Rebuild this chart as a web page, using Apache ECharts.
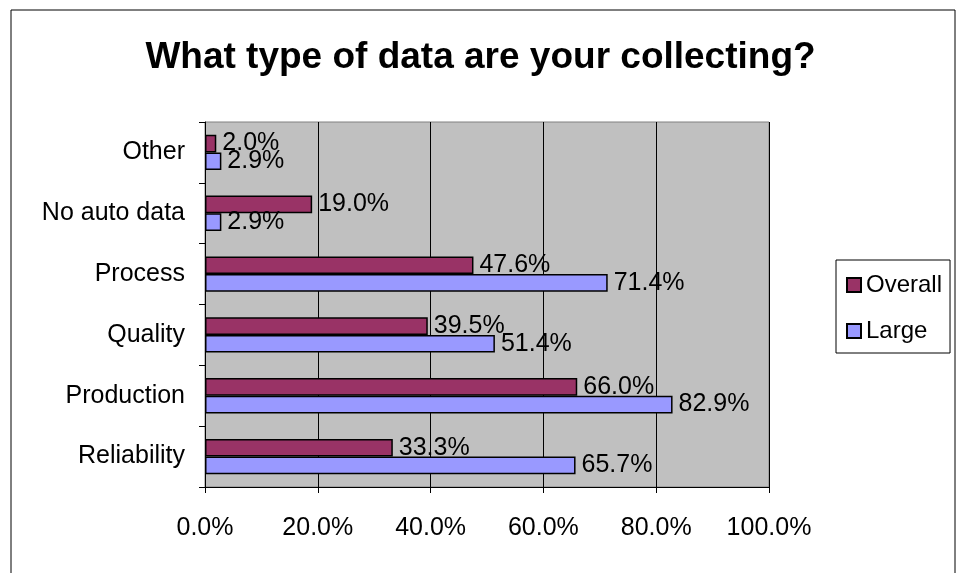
<!DOCTYPE html>
<html>
<head>
<meta charset="utf-8">
<script src="https://cdn.jsdelivr.net/npm/echarts@6/dist/echarts.min.js"></script>
<style>
  html, body { margin: 0; padding: 0; background: #fff; }
  #chart { width: 961px; height: 573px; }
</style>
</head>
<body>
<div id="chart"></div>
<script>
// categories bottom -> top (category axis starts at the bottom)
const categories = ['Reliability', 'Production', 'Quality', 'Process', 'No auto data', 'Other'];
const overallValues = [33.3, 66.0, 39.5, 47.6, 19.0, 2.0];
const largeValues = [65.7, 82.9, 51.4, 71.4, 2.9, 2.9];
const xTicks = [0, 20, 40, 60, 80, 100];

const font = '"Liberation Sans", Arial, sans-serif';

const chart = echarts.init(document.getElementById('chart'));

const labelStyle = {
  show: true,
  position: 'right',
  distance: 6,
  color: '#000',
  fontFamily: font,
  fontSize: 25,
  formatter: (p) => p.value.toFixed(1) + '%'
};

chart.setOption({
  animation: false,
  backgroundColor: '#fff',
  title: {
    text: 'What type of data are your collecting?',
    left: 'center',
    top: 34,
    textStyle: {
      fontFamily: font,
      fontWeight: 'bold',
      fontSize: 37,
      color: '#000'
    }
  },
  graphic: [{
    type: 'rect',
    shape: { x: 11, y: 10, width: 944, height: 620 },
    style: { fill: 'none', stroke: '#000', lineWidth: 1 },
    silent: true
  }],
  legend: {
    data: ['Overall', 'Large'],
    orient: 'vertical',
    left: 836,
    top: 260,
    padding: [13, 8, 10, 10],
    itemGap: 22,
    itemWidth: 14,
    itemHeight: 14,
    icon: 'rect',
    borderColor: '#000',
    borderWidth: 1,
    textStyle: { fontFamily: font, fontSize: 24, color: '#000' }
  },
  grid: {
    left: 205,
    right: 192,
    top: 122,
    bottom: 86,
    show: true,
    backgroundColor: '#C0C0C0',
    borderColor: '#808080',
    borderWidth: 1
  },
  xAxis: {
    type: 'value',
    min: xTicks[0],
    max: xTicks[xTicks.length - 1],
    interval: 20,
    axisLine: { show: true, lineStyle: { color: '#000', width: 1 } },
    axisTick: { show: true, length: 6, lineStyle: { color: '#000' } },
    axisLabel: {
      margin: 29,
      color: '#000',
      fontFamily: font,
      fontSize: 25,
      formatter: (v) => v.toFixed(1) + '%'
    },
    splitLine: { show: true, lineStyle: { color: '#000', width: 1 } }
  },
  yAxis: {
    type: 'category',
    data: categories,
    axisLine: { show: true, lineStyle: { color: '#000', width: 1 } },
    axisTick: { show: true, length: 6, lineStyle: { color: '#000' } },
    axisLabel: {
      margin: 20,
      color: '#000',
      fontFamily: font,
      fontSize: 25
    }
  },
  series: [
    {
      name: 'Overall',
      type: 'bar',
      data: overallValues,
      barGap: '0%',
      barCategoryGap: '42%',
      itemStyle: { color: '#993366', borderColor: '#000', borderWidth: 1.5 },
      label: labelStyle
    },
    {
      name: 'Large',
      type: 'bar',
      data: largeValues,
      barGap: '0%',
      barCategoryGap: '42%',
      itemStyle: { color: '#9999FF', borderColor: '#000', borderWidth: 1.5 },
      label: labelStyle
    }
  ]
});
</script>
</body>
</html>
